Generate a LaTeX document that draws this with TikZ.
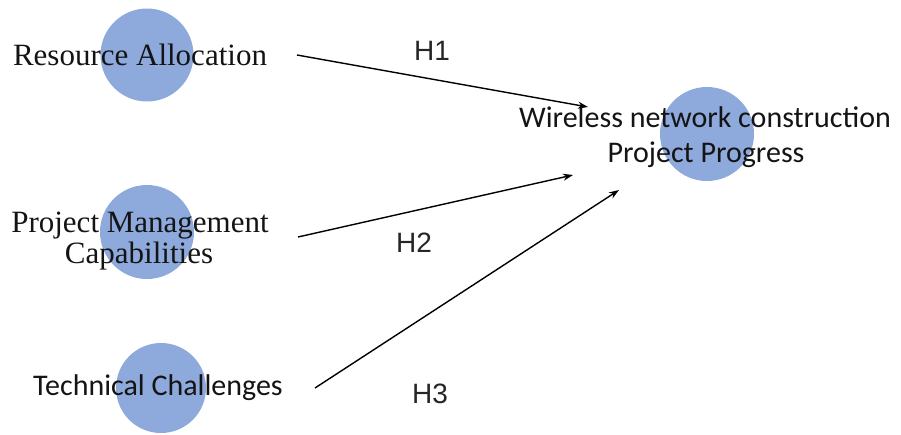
\documentclass[tikz,border=0pt]{standalone}
\usepackage{fontspec}
\usetikzlibrary{arrows.meta}
\newfontfamily\serifface{Liberation Serif}
\newfontfamily\calface{Carlito}
\newfontfamily\arialface{Liberation Sans}
\definecolor{cblue}{RGB}{142,169,219}
\definecolor{txt}{RGB}{20,20,20}
\tikzset{
  blob/.style={circle, fill=cblue, inner sep=0pt},
  serlabel/.style={font=\serifface\fontsize{31}{31}\selectfont, text=txt, inner sep=0pt, align=center},
  callabel/.style={font=\calface\fontsize{30}{35}\selectfont, text=txt, inner sep=0pt, align=center},
  hlabel/.style={font=\arialface\fontsize{28}{30}\selectfont, text=black!85, inner sep=0pt},
  arr/.style={-{Stealth[length=10pt,width=7pt]}, line width=1.4pt, black}
}
\begin{document}
\begin{tikzpicture}[x=1pt,y=-1pt]
\useasboundingbox (0,0) rectangle (901,434);
% circles
\node[blob, minimum size=93pt] (c1) at (147,55) {};
\node[blob, minimum size=94pt] (c2) at (147,232) {};
\node[blob, minimum size=90pt] (c3) at (161,388) {};
\node[blob, minimum size=94pt] (c4) at (707,134) {};
% texts
\node[serlabel, anchor=base] (t1) at (140,65) {Resource Allocation};
\node[serlabel, anchor=base] (t2a) at (140,232) {Project Management};
\node[serlabel, anchor=base] (t2b) at (139,263) {Capabilities};
\node[callabel, anchor=base] (t3) at (158,395) {Technical Challenges};
\node[callabel, anchor=base] (t4a) at (705,127) {Wireless network construction};
\node[callabel, anchor=base] (t4b) at (706,162) {Project Progress};
% hypothesis labels
\node[hlabel] (h1) at (432,51) {H1};
\node[hlabel] (h2) at (414,243) {H2};
\node[hlabel] (h3) at (430,394) {H3};
% connector ends
\coordinate (s1) at (297,55);
\coordinate (e1) at (588,107);
\coordinate (s2) at (298,237);
\coordinate (e2) at (573,175);
\coordinate (s3) at (315,388);
\coordinate (e3) at (619,190);
\draw[arr] (s1) -- (e1);
\draw[arr] (s2) -- (e2);
\draw[arr] (s3) -- (e3);
\end{tikzpicture}
\end{document}
